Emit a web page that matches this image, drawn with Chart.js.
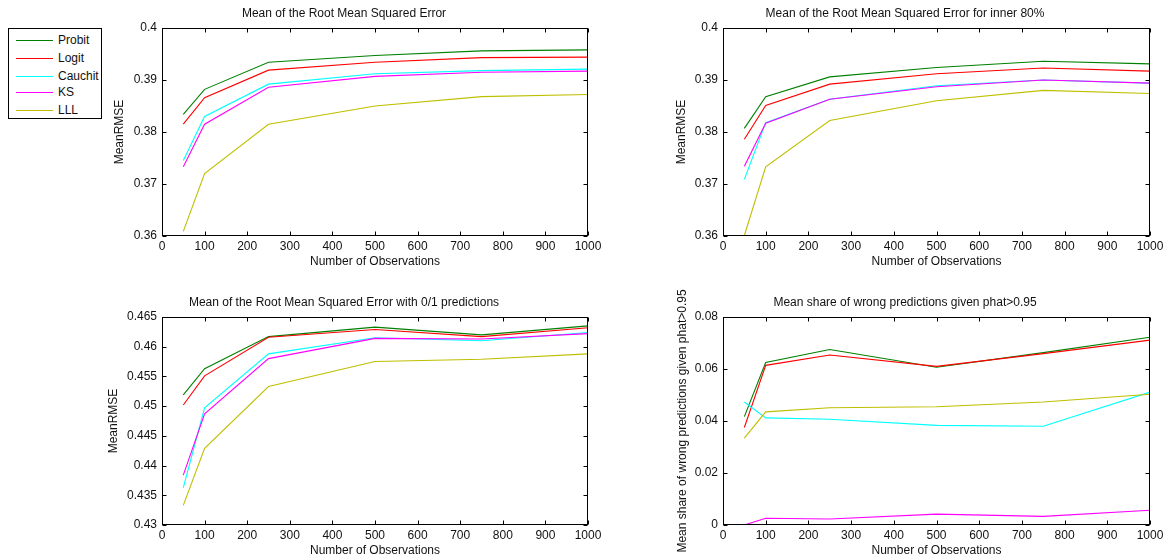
<!DOCTYPE html>
<html>
<head>
<meta charset="utf-8">
<script src="https://cdn.jsdelivr.net/npm/chart.js@4/dist/chart.umd.min.js"></script>
<style>
  html, body { margin: 0; padding: 0; background: #fff; }
  body { width: 1167px; height: 560px; position: relative; overflow: hidden; font-family: "Liberation Sans", Arial, sans-serif; }
  .panel { position: absolute; }
  #legend { position: absolute; left: 8px; top: 28px; width: 92px; height: 89px; border: 1px solid #000; background: #fff; }
  .li { position: absolute; left: 0; height: 14px; font-size: 12px; color: #111; }
  .li .sw { position: absolute; left: 7px; top: 7px; width: 37px; height: 0; border-top: 1px solid; }
  .li .tx { position: absolute; left: 49px; top: 0; line-height: 14px; white-space: nowrap; }
</style>
</head>
<body>
<div id="legend"></div>
<div class="panel" style="left:100px;top:0px;width:510px;height:272px"><canvas id="c1"></canvas></div>
<div class="panel" style="left:660px;top:0px;width:507px;height:272px"><canvas id="c2"></canvas></div>
<div class="panel" style="left:100px;top:280px;width:510px;height:280px"><canvas id="c3"></canvas></div>
<div class="panel" style="left:660px;top:280px;width:507px;height:280px"><canvas id="c4"></canvas></div>
<script>
// ---------- data ----------
const observations = [50, 100, 250, 500, 750, 1000];
const seriesNames = ['Probit', 'Logit', 'Cauchit', 'KS', 'LLL'];

// Mean of the Root Mean Squared Error
const rmseProbit  = [0.3834, 0.3882, 0.3934, 0.3947, 0.3956, 0.3958];
const rmseLogit   = [0.3815, 0.3866, 0.3919, 0.3934, 0.3943, 0.3944];
const rmseCauchit = [0.3745, 0.3830, 0.3892, 0.3912, 0.3918, 0.3921];
const rmseKS      = [0.3733, 0.3815, 0.3886, 0.3907, 0.3915, 0.3917];
const rmseLLL     = [0.3609, 0.3720, 0.3815, 0.3850, 0.3868, 0.3872];

// Mean of the Root Mean Squared Error for inner 80%
const innerProbit  = [0.3807, 0.3868, 0.3906, 0.3924, 0.3936, 0.3931];
const innerLogit   = [0.3786, 0.3851, 0.3892, 0.3912, 0.3923, 0.3917];
const innerCauchit = [0.3709, 0.3818, 0.3863, 0.3889, 0.3900, 0.3894];
const innerKS      = [0.3734, 0.3817, 0.3863, 0.3887, 0.3900, 0.3894];
const innerLLL     = [0.3601, 0.3733, 0.3822, 0.3860, 0.3880, 0.3874];

// Mean of the Root Mean Squared Error with 0/1 predictions
const binProbit  = [0.4519, 0.4563, 0.4617, 0.4633, 0.4620, 0.4635];
const binLogit   = [0.4502, 0.4551, 0.4616, 0.4629, 0.4617, 0.4632];
const binCauchit = [0.4363, 0.4497, 0.4588, 0.4615, 0.4610, 0.4624];
const binKS      = [0.4384, 0.4487, 0.4580, 0.4614, 0.4613, 0.4622];
const binLLL     = [0.4333, 0.4429, 0.4533, 0.4575, 0.4579, 0.4588];

// Mean share of wrong predictions given phat>0.95
const wrongProbit  = [0.0417, 0.0625, 0.0675, 0.0607, 0.0663, 0.0722];
const wrongLogit   = [0.0375, 0.0614, 0.0654, 0.0610, 0.0659, 0.0711];
const wrongCauchit = [0.0473, 0.0412, 0.0407, 0.0383, 0.0380, 0.0511];
const wrongKS      = [0.0000, 0.0026, 0.0023, 0.0042, 0.0033, 0.0057];
const wrongLLL     = [0.0334, 0.0435, 0.0451, 0.0455, 0.0473, 0.0503];

// tick values
const xTicks = [0, 100, 200, 300, 400, 500, 600, 700, 800, 900, 1000];
const yTicksRmse = [0.36, 0.37, 0.38, 0.39, 0.40];
const yTicksBin = [0.43, 0.435, 0.44, 0.445, 0.45, 0.455, 0.46, 0.465];
const yTicksWrong = [0, 0.02, 0.04, 0.06, 0.08];

// titles
const titles = [
  'Mean of the Root Mean Squared Error',
  'Mean of the Root Mean Squared Error for inner 80%',
  'Mean of the Root Mean Squared Error with 0/1 predictions',
  'Mean share of wrong predictions given phat>0.95'
];
const xTitle = 'Number of Observations';
const yTitles = ['MeanRMSE', 'MeanRMSE', 'MeanRMSE', 'Mean share of wrong predictions given phat>0.95'];

// ---------- styling ----------
const colors = ['#008000', '#ff0000', '#00ffff', '#ff00ff', '#bfbf00'];
const FONT = '"Liberation Sans", Arial, sans-serif';
const TXT = '#111';

// legend
(function () {
  const lg = document.getElementById('legend');
  const rows = [4, 22, 40, 56, 74];
  seriesNames.forEach((n, i) => {
    const d = document.createElement('div');
    d.className = 'li';
    d.style.top = rows[i] + 'px';
    d.innerHTML = '<div class="sw" style="border-color:' + colors[i] + '"></div><div class="tx"></div>';
    d.querySelector('.tx').textContent = n;
    lg.appendChild(d);
  });
})();

const frameTicks = {
  id: 'frameTicks',
  afterDraw(chart) {
    const { ctx, chartArea: a, scales } = chart;
    const L = Math.round(a.left) + 0.5, R = Math.round(a.right) - 0.5;
    const T = Math.round(a.top) + 0.5, B = Math.round(a.bottom) - 0.5;
    ctx.save();
    ctx.strokeStyle = '#000';
    ctx.lineWidth = 1;
    ctx.beginPath();
    const tl = 4;
    scales.x.ticks.forEach(t => {
      const px = Math.round(scales.x.getPixelForValue(t.value)) + 0.5;
      ctx.moveTo(px, B); ctx.lineTo(px, B - tl);
      ctx.moveTo(px, T); ctx.lineTo(px, T + tl);
    });
    scales.y.ticks.forEach(t => {
      const py = Math.round(scales.y.getPixelForValue(t.value)) + 0.5;
      ctx.moveTo(L, py); ctx.lineTo(L + tl, py);
      ctx.moveTo(R, py); ctx.lineTo(R - tl, py);
    });
    ctx.stroke();
    ctx.strokeRect(L, T, R - L, B - T);
    ctx.restore();
  }
};

function fmt(v) { return String(parseFloat(Number(v).toFixed(4))); }

function makeChart(id, series, yTicks, cfg) {
  const datasets = series.map((vals, i) => ({
    label: seriesNames[i],
    data: observations.map((x, k) => ({ x: x, y: vals[k] })),
    borderColor: colors[i],
    backgroundColor: colors[i],
    borderWidth: 1.1,
    pointRadius: 0,
    tension: 0,
    fill: false,
    order: series.length - i
  }));
  return new Chart(document.getElementById(id), {
    type: 'line',
    data: { datasets },
    plugins: [frameTicks],
    options: {
      responsive: true,
      maintainAspectRatio: false,
      animation: false,
      events: [],
      layout: { padding: { left: 0, right: cfg.rightPad, top: 0, bottom: 0 } },
      plugins: {
        legend: { display: false },
        tooltip: { enabled: false },
        title: {
          display: true,
          text: cfg.title,
          color: TXT,
          font: { family: FONT, size: 12, weight: 'normal', lineHeight: 1.2 },
          padding: { top: cfg.titleTop, bottom: cfg.titleBottom }
        }
      },
      scales: {
        x: {
          type: 'linear',
          min: 0, max: 1000,
          afterBuildTicks(s) { s.ticks = xTicks.map(v => ({ value: v })); },
          afterFit(s) { s.height = cfg.xHeight; },
          grid: { display: false, drawTicks: false },
          border: { display: false },
          ticks: { color: TXT, font: { family: FONT, size: 12 }, padding: 3, maxRotation: 0, autoSkip: false, callback: v => fmt(v) },
          title: { display: true, text: xTitle, color: TXT, font: { family: FONT, size: 12, lineHeight: 1.2 }, padding: { top: 0, bottom: cfg.xTitlePad } }
        },
        y: {
          type: 'linear',
          min: yTicks[0], max: yTicks[yTicks.length - 1],
          afterBuildTicks(s) { s.ticks = yTicks.map(v => ({ value: v })); },
          afterFit(s) { s.width = cfg.yWidth; },
          grid: { display: false, drawTicks: false },
          border: { display: false },
          ticks: { color: TXT, font: { family: FONT, size: 12 }, padding: 5, autoSkip: false, callback: v => fmt(v) },
          title: { display: true, text: cfg.yTitle, color: TXT, font: { family: FONT, size: 12, lineHeight: 1.2 }, padding: { top: cfg.yTitlePad, bottom: 0 } }
        }
      }
    }
  });
}

makeChart('c1', [rmseProbit, rmseLogit, rmseCauchit, rmseKS, rmseLLL], yTicksRmse,
  { title: titles[0], yTitle: yTitles[0], rightPad: 22, titleTop: 6.8, titleBottom: 6.8, xHeight: 36, xTitlePad: 3, yWidth: 62, yTitlePad: 12.8 });
makeChart('c2', [innerProbit, innerLogit, innerCauchit, innerKS, innerLLL], yTicksRmse,
  { title: titles[1], yTitle: yTitles[1], rightPad: 17, titleTop: 6.8, titleBottom: 6.8, xHeight: 36, xTitlePad: 3, yWidth: 63, yTitlePad: 14 });
makeChart('c3', [binProbit, binLogit, binCauchit, binKS, binLLL], yTicksBin,
  { title: titles[2], yTitle: yTitles[2], rightPad: 22, titleTop: 15.8, titleBottom: 6.8, xHeight: 35, xTitlePad: 2, yWidth: 62, yTitlePad: 6 });
makeChart('c4', [wrongProbit, wrongLogit, wrongCauchit, wrongKS, wrongLLL], yTicksWrong,
  { title: titles[3], yTitle: yTitles[3], rightPad: 17, titleTop: 15.8, titleBottom: 6.8, xHeight: 35, xTitlePad: 2, yWidth: 63, yTitlePad: 15 });
</script>
</body>
</html>
